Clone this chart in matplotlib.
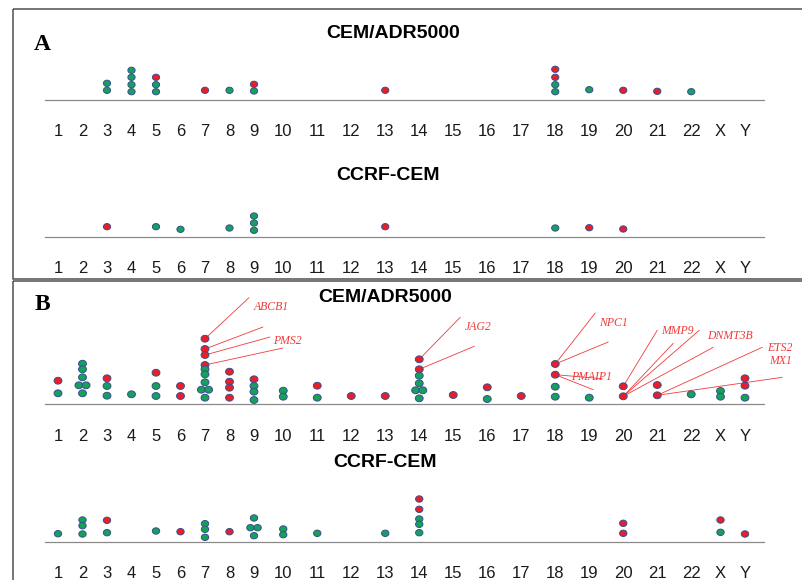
import numpy as np
import matplotlib.pyplot as plt
from matplotlib.patches import Rectangle

# ----------------------- data -----------------------
chroms = [str(i) for i in range(1, 23)] + ["X", "Y"]

# each track: chromosome of the dot, height above the line, colour code
# (R = red, G = green), side for dots drawn as a pair (-1 / +1)
a_adr_chr = ["3", "3", "4", "4", "4", "4", "5", "5", "5", "7", "8", "9", "9", "13",
             "18", "18", "18", "18", "19", "20", "21", "22"]
a_adr_h = [16.7, 9.7, 29.7, 22.7, 15.3, 8.3, 22.7, 15.3, 8.3, 9.7, 9.7, 15.7, 9.0, 9.7,
           30.7, 22.7, 15.3, 8.3, 10.3, 9.7, 8.7, 8.3]
a_adr_col = list("GG" "GGGG" "RGG" "R" "G" "RG" "R" "RRGG" "G" "R" "R" "G")
a_adr_side = [0] * len(a_adr_chr)

a_ccrf_chr = ["3", "5", "6", "8", "9", "9", "9", "13", "18", "19", "20"]
a_ccrf_h = [10.0, 10.0, 7.4, 8.7, 20.7, 13.7, 6.4, 10.0, 8.7, 9.0, 7.7]
a_ccrf_col = list("R" "G" "G" "G" "GGG" "R" "G" "R" "R")
a_ccrf_side = [0] * len(a_ccrf_chr)

b_adr_chr = (["1"] * 2 + ["2"] * 6 + ["3"] * 3 + ["4"] + ["5"] * 3 + ["6"] * 2
             + ["7"] * 10 + ["8"] * 4 + ["9"] * 4 + ["10"] * 2 + ["11"] * 2 + ["12"] + ["13"]
             + ["14"] * 7 + ["15"] + ["16"] * 2 + ["17"] + ["18"] * 4 + ["19"] + ["20"] * 2
             + ["21"] * 2 + ["22"] + ["X"] * 2 + ["Y"] * 3)
b_adr_h = [23.6, 11.0,
           40.6, 35.0, 27.0, 19.0, 19.0, 11.0,
           26.0, 18.3, 8.6,
           10.0,
           31.6, 18.3, 8.3,
           18.3, 8.3,
           65.6, 55.3, 49.3, 39.3, 35.0, 30.0, 22.0, 14.6, 14.6, 6.6,
           32.6, 22.6, 16.6, 6.6,
           25.0, 18.3, 12.6, 4.3,
           13.6, 7.6,
           18.6, 6.6,
           8.3,
           8.3,
           45.0, 35.0, 28.6, 21.0, 14.0, 14.0, 6.0,
           9.3,
           17.0, 5.3,
           8.3,
           40.3, 29.6, 17.6, 7.6,
           6.6,
           18.0, 8.0,
           19.3, 9.0,
           10.0,
           13.3, 7.6,
           26.0, 18.6, 6.6]
b_adr_col = list("RG" "GGGGGG" "RGG" "G" "RGG" "RR" "RRRRGGGGGG" "RRRR" "RGGG" "GG" "RG"
                 "R" "R" "RRGGGGG" "R" "RG" "R" "RRGG" "G" "RR" "RR" "G" "GG" "RRG")
b_adr_side = [0] * len(b_adr_chr)
b_adr_side[5], b_adr_side[6] = -1, 1      # chr 2 pair
b_adr_side[24], b_adr_side[25] = -1, 1    # chr 7 pair
b_adr_side[45], b_adr_side[46] = -1, 1    # chr 14 pair

b_ccrf_chr = (["1"] + ["2"] * 3 + ["3"] * 2 + ["5"] + ["6"] + ["7"] * 3 + ["8"] + ["9"] * 4
              + ["10"] * 2 + ["11"] + ["13"] + ["14"] * 5 + ["20"] * 2 + ["X"] * 2 + ["Y"])
b_ccrf_h = [8.0,
            21.7, 16.0, 7.7,
            21.4, 9.0,
            10.7,
            10.0,
            18.0, 12.4, 4.4,
            10.0,
            23.7, 14.0, 14.0, 6.0,
            12.7, 7.0,
            8.4,
            8.4,
            42.7, 32.4, 22.7, 17.4, 9.0,
            18.4, 8.4,
            21.7, 9.4,
            7.7]
b_ccrf_col = list("G" "GGG" "RG" "G" "R" "GGG" "R" "GGGG" "GG" "G" "G" "RRGGG" "RR" "RG" "R")
b_ccrf_side = [0] * len(b_ccrf_chr)
b_ccrf_side[13], b_ccrf_side[14] = -1, 1  # chr 9 pair

# gene callouts in panel B (CEM/ADR5000): chromosome, dot height
gene_dot_chr = ["7", "7", "7", "7", "14", "14", "18", "18", "18", "18",
                "20", "20", "20", "20", "21", "21"]
gene_dot_h = [65.6, 55.3, 49.3, 39.3, 45.0, 35.0, 40.3, 40.3, 29.6, 29.6,
              18.0, 8.0, 8.0, 8.0, 9.0, 9.0]
gene_names = ["ABCB1", "PMS2", "JAG2", "NPC1", "PMAIP1", "MMP9", "DNMT3B", "ETS2", "MX1"]
gene_name_chr = ["7", "7", "14", "18", "18", "20", "20", "20", "20"]

# ----------------------- layout -----------------------
W, H = 802, 580
RED, GREEN, EDGE = "#ee1c25", "#16a05a", "#34508f"
LINE_RED = "#f03a3a"

# line ends of the callouts, pixel offset from the dot
callout_off = [(44, 41), (58, 22), (65, 18), (78, 17), (41, 42), (55, 23),
               (40, 51), (53, 22), (47, -4), (38, -15),
               (34, 56), (50, 53), (76, 66), (90, 49), (105, 48), (125, 18)]
# gene name offset from the chromosome position on the line
name_off = [(66, 97), (82, 63), (59, 77), (58, 81), (36, 27),
            (54, 73), (107, 68), (157, 56), (157, 43)]

# tick positions: labels are spaced like a typed row of text
pos = [0.0]
for a, b in zip(chroms[:-1], chroms[1:]):
    pos.append(pos[-1] + 15 + 9.5 * (len(a) + len(b)) / 2)
xpos = dict(zip(chroms, pos))

plt.rcParams["font.family"] = ["Liberation Sans", "DejaVu Sans"]

fig = plt.figure(figsize=(W / 100, H / 100), dpi=100)

# background axes in pixel units for frames and headings
bg = fig.add_axes([0, 0, 1, 1])
bg.set_xlim(0, W)
bg.set_ylim(H, 0)
bg.axis("off")
bg.add_patch(Rectangle((12.7, 9), 800, 270, fill=False, ec="#505050", lw=1.1, clip_on=False))
bg.add_patch(Rectangle((12.7, 281), 800, 320, fill=False, ec="#505050", lw=1.1, clip_on=False))
bg.text(42.5, 44, "A", fontsize=17, fontweight="bold", family="Liberation Serif",
        ha="center", va="center")
bg.text(42, 304, "B", fontsize=17, fontweight="bold", family="Liberation Serif",
        ha="center", va="center")
for x, y, s in [(393, 33.5, "CEM/ADR5000"), (388, 175, "CCRF-CEM"),
                (385, 298, "CEM/ADR5000"), (385, 462.5, "CCRF-CEM")]:
    bg.text(x, y, s, fontsize=14, fontweight="bold", ha="center", va="center")

ellipse = list(zip(1.15 * np.cos(np.linspace(0, 2 * np.pi, 41)),
                   np.sin(np.linspace(0, 2 * np.pi, 41))))


def track(baseline, chrs, hs, cols, sides, size):
    top = 95
    ax = fig.add_axes([45 / W, 1 - baseline / H, (764 - 45) / W, top / H])
    ax.set_xlim(45 - 58, 764 - 58)
    ax.set_ylim(0, top)
    ax.patch.set_visible(False)
    for s in ["top", "left", "right"]:
        ax.spines[s].set_visible(False)
    ax.spines["bottom"].set_color("#8a8a8a")
    ax.spines["bottom"].set_linewidth(0.9)
    ax.set_yticks([])
    ax.set_xticks(pos, chroms)
    ax.tick_params(axis="x", length=0, pad=17.5, labelsize=12, labelcolor="#1a1a1a")
    x = [xpos[c] + 3.6 * sd for c, sd in zip(chrs, sides)]
    fc = [RED if c == "R" else GREEN for c in cols]
    ax.scatter(x, hs, s=size, c=fc, marker=ellipse, edgecolors=EDGE, linewidths=0.7,
               zorder=3, clip_on=False)
    return ax


track(100, a_adr_chr, a_adr_h, a_adr_col, a_adr_side, 27)
track(236.7, a_ccrf_chr, a_ccrf_h, a_ccrf_col, a_ccrf_side, 27)
axb = track(404.3, b_adr_chr, b_adr_h, b_adr_col, b_adr_side, 32)
track(541.7, b_ccrf_chr, b_ccrf_h, b_ccrf_col, b_ccrf_side, 28)

# callout lines and gene names
for c, h, (dx, dy) in zip(gene_dot_chr, gene_dot_h, callout_off):
    axb.annotate("", xy=(xpos[c], h), xytext=(dx, dy), textcoords="offset pixels",
                 arrowprops=dict(arrowstyle="-", color=LINE_RED, lw=0.6,
                                 shrinkA=0, shrinkB=0), zorder=2, annotation_clip=False)
for name, c, (dx, dy) in zip(gene_names, gene_name_chr, name_off):
    axb.annotate(name, xy=(xpos[c], 0), xytext=(dx, dy), textcoords="offset pixels",
                 ha="center", va="center", fontsize=8.5, color=LINE_RED, style="italic",
                 family="Liberation Serif", annotation_clip=False)

fig.savefig("out.png", dpi=100)
